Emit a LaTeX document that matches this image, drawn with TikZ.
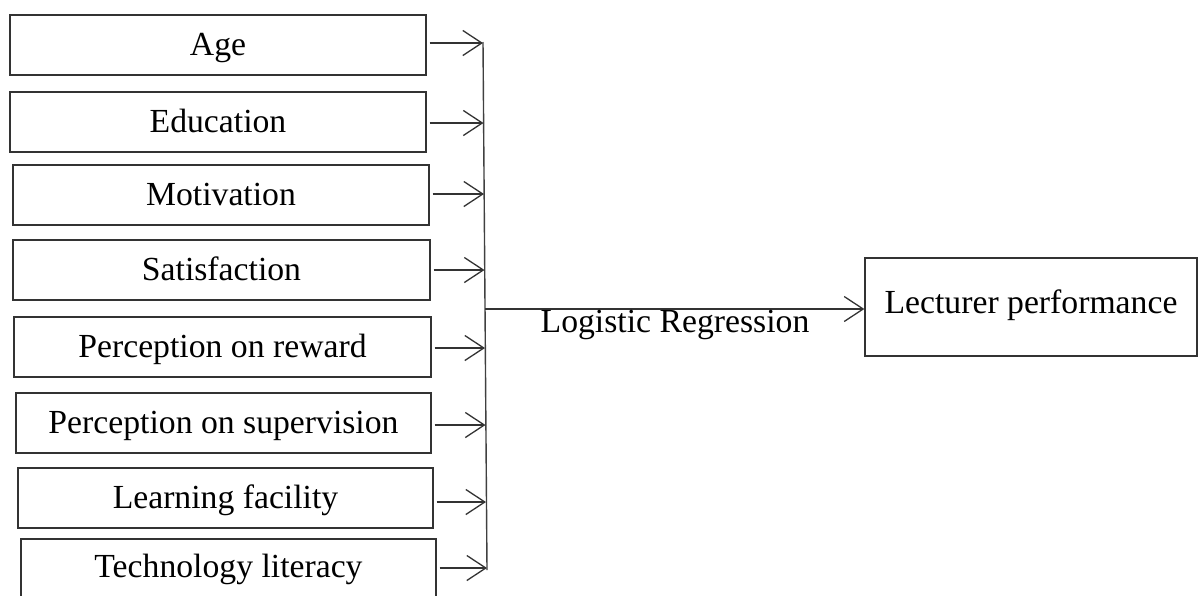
\documentclass[tikz,border=0pt]{standalone}
\usepackage{fontspec}
\setmainfont{Liberation Serif}
\usetikzlibrary{arrows.meta}
\begin{document}
\begin{tikzpicture}[x=1pt,y=-1pt,
  txt/.style={font=\fontsize{33.7}{35}\selectfont},
  box/.style={draw=black!80,line width=1.3pt,minimum width=416pt,minimum height=60pt,inner sep=0pt,txt,text height=22pt,text depth=2pt},
  arr/.style={draw=black!80,line width=1.3pt,-{Straight Barb[length=19pt,width=25pt,line width=1.3pt]}},
  ln/.style={draw=black!75,line width=1.4pt}]
\useasboundingbox (0,0) rectangle (1198,595);
\node[box] (age) at (218,45) {Age};
\node[box] (edu) at (218,122) {Education};
\node[box] (mot) at (221,195) {Motivation};
\node[box,minimum width=417pt] (sat) at (221.5,270) {Satisfaction};
\node[box,minimum width=417pt] (rew) at (222.5,347) {Perception on reward};
\node[box,minimum width=415pt] (sup) at (223.5,423) {Perception on supervision};
\node[box,minimum width=415pt] (lea) at (225.5,498) {Learning facility};
\node[box,minimum width=415pt,text height=18pt] (tec) at (228.5,569) {Technology literacy};
\node[draw=black!80,line width=1.3pt,minimum width=332pt,minimum height=98pt,inner sep=0pt,txt,text height=14pt,text depth=2pt] (lp) at (1031,307) {Lecturer performance};
\coordinate (top) at (483,42);
\coordinate (bot) at (487,570);
\coordinate (j1) at (483,43);
\coordinate (j2) at (483.5,123);
\coordinate (j3) at (484,194);
\coordinate (j4) at (484.5,270);
\coordinate (j5) at (485,348);
\coordinate (j6) at (485.5,425);
\coordinate (j7) at (486,502);
\coordinate (j8) at (487,568);
\coordinate (jm) at (485,309);
\draw[ln] (top) -- (bot);
\draw[arr] ([xshift=3pt]j1 -| age.east) -- (j1);
\draw[arr] ([xshift=3pt]j2 -| edu.east) -- (j2);
\draw[arr] ([xshift=3pt]j3 -| mot.east) -- (j3);
\draw[arr] ([xshift=3pt]j4 -| sat.east) -- (j4);
\draw[arr] ([xshift=3pt]j5 -| rew.east) -- (j5);
\draw[arr] ([xshift=3pt]j6 -| sup.east) -- (j6);
\draw[arr] ([xshift=3pt]j7 -| lea.east) -- (j7);
\draw[arr] ([xshift=3pt]j8 -| tec.east) -- (j8);
\draw[arr] (jm) -- (jm -| lp.west);
\node[txt,inner sep=0pt,anchor=base] (lr) at (675,332) {Logistic Regression};
\end{tikzpicture}
\end{document}
